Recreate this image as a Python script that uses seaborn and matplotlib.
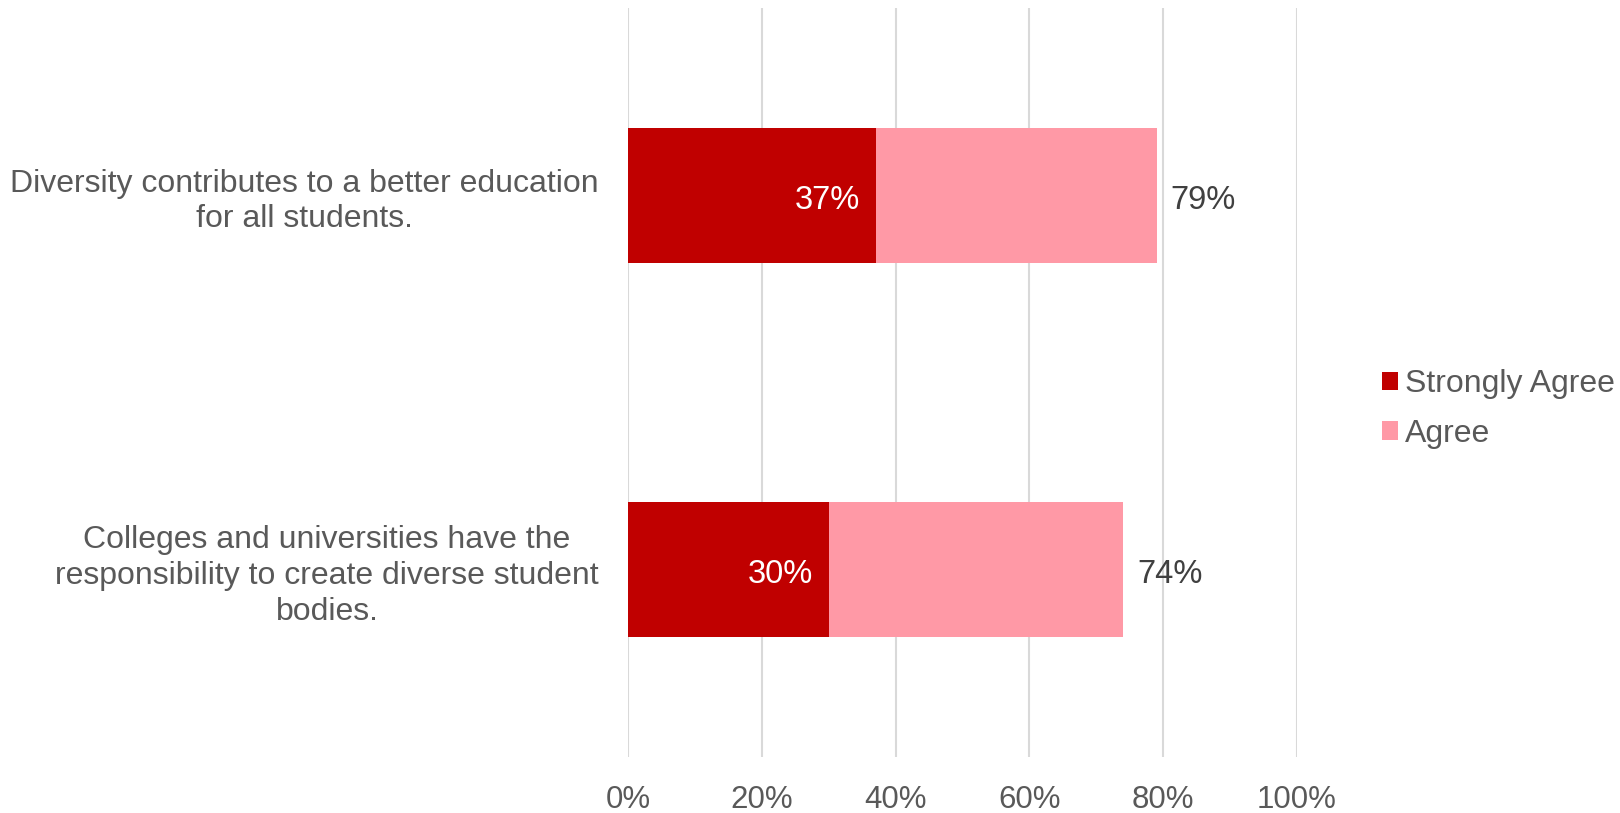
import pandas as pd
import numpy as np
import matplotlib.pyplot as plt
import seaborn as sns

# Survey statements and shares
statements = [
    "Diversity contributes to a better education\nfor all students.",
    "Colleges and universities have the\nresponsibility to create diverse student\nbodies.",
]
strongly_agree = [0.37, 0.30]
agree = [0.42, 0.44]
x_ticks = [0, 0.2, 0.4, 0.6, 0.8, 1.0]

dark_red = "#C00000"
pink = "#FF99A6"
grey = "#595959"

df = pd.DataFrame({"Statement": statements,
                   "Strongly Agree": strongly_agree,
                   "Agree": agree})
df["Total"] = df["Strongly Agree"] + df["Agree"]

sns.set_style("white")
plt.rcParams["font.family"] = ["Liberation Sans", "DejaVu Sans"]

fig = plt.figure(figsize=(16.2, 8.13), dpi=100)
ax = fig.add_axes([0.3877, 0.0689, 0.8006 - 0.3877, 0.9902 - 0.0689])

# Stacked bars: draw total in pink first, then strongly agree on top
sns.barplot(data=df, x="Total", y="Statement", color=pink, width=0.36,
            orient="h", ax=ax, saturation=1, label="Agree", linewidth=0)
sns.barplot(data=df, x="Strongly Agree", y="Statement", color=dark_red,
            width=0.36, orient="h", ax=ax, saturation=1, label="Strongly Agree",
            linewidth=0)
if ax.get_legend() is not None:
    ax.get_legend().remove()

ax.set_xlim(0, 1.0)
ax.set_ylim(1.5, -0.5)
ax.set_xticks(x_ticks)
ax.set_xticklabels([f"{int(t*100)}%" for t in x_ticks], fontsize=22.5, color=grey)
ax.set_xlabel("")
ax.set_ylabel("")
ax.tick_params(axis="x", length=0, pad=20)
ax.tick_params(axis="y", length=0, pad=21)
for lbl in ax.get_yticklabels():
    lbl.set_fontsize(23)
    lbl.set_color(grey)
    lbl.set_multialignment("center")
    lbl.set_linespacing(1.24)

ax.set_axisbelow(True)
ax.xaxis.grid(True, color="#D9D9D9", linewidth=1.5)
ax.yaxis.grid(False)
for s in ax.spines.values():
    s.set_visible(False)

# Value labels
for i, row in df.iterrows():
    ax.annotate(f"{row['Strongly Agree']*100:.0f}%", (row["Strongly Agree"], i),
                xytext=(-11, -1), textcoords="offset points",
                ha="right", va="center_baseline", fontsize=23.5, color="white")
    ax.annotate(f"{row['Total']*100:.0f}%", (row["Total"], i),
                xytext=(10, -1), textcoords="offset points",
                ha="left", va="center_baseline", fontsize=23.5, color="#404040")

# Legend (Strongly Agree first)
handles, labels = ax.get_legend_handles_labels()
order = [labels.index("Strongly Agree"), labels.index("Agree")]
fig.legend([handles[k] for k in order], [labels[k] for k in order],
           loc="center left", bbox_to_anchor=(0.845, 0.497), frameon=False,
           fontsize=23, labelcolor=grey, handlelength=0.52, handleheight=0.52,
           handletextpad=0.2, labelspacing=0.6, borderaxespad=0)

fig.savefig("out.png", dpi=100)
